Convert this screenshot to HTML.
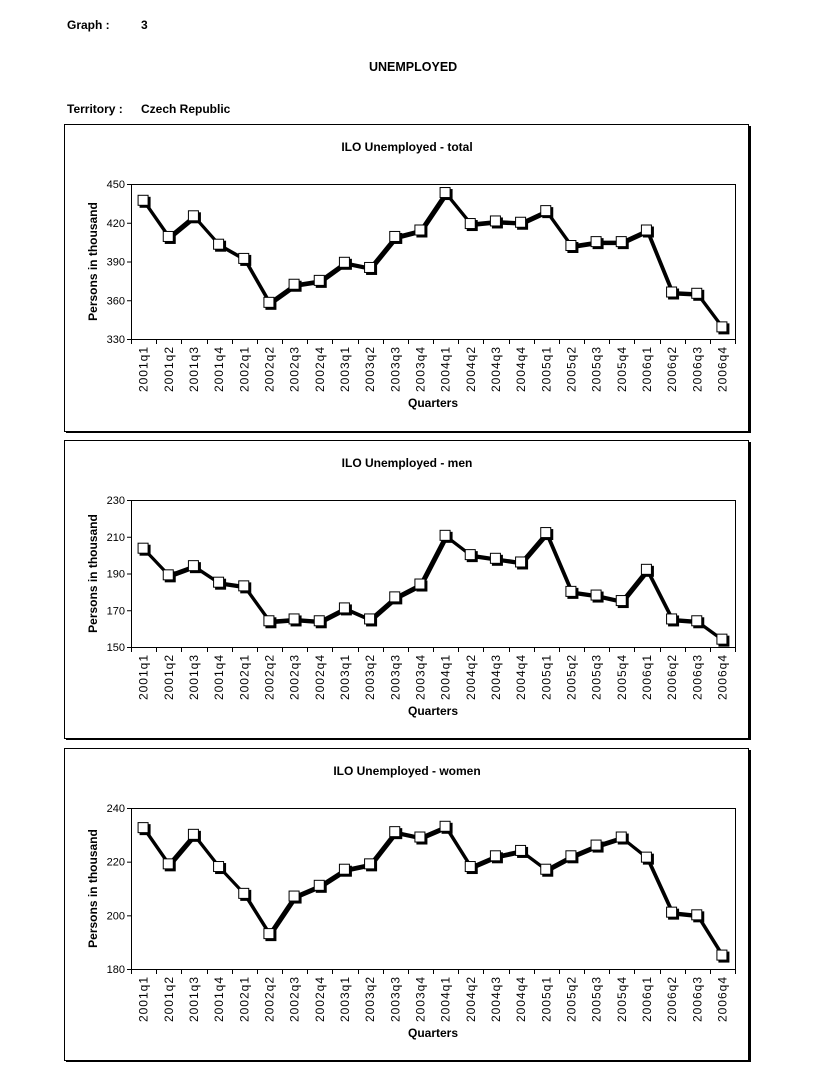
<!DOCTYPE html>
<html><head><meta charset="utf-8"><style>
html,body{margin:0;padding:0;background:#fff;}
body{width:831px;height:1080px;overflow:hidden;position:relative;font-family:"Liberation Sans",Arial,sans-serif;}
.h{position:absolute;font-size:12px;font-weight:bold;color:#000;}
svg{position:absolute;left:0;top:0;}
</style></head><body>
<div class="h" style="left:67px;top:18px">Graph :</div>
<div class="h" style="left:141px;top:18px">3</div>
<div class="h" style="left:369px;top:60px;font-size:12.5px">UNEMPLOYED</div>
<div class="h" style="left:67px;top:102px">Territory :</div>
<div class="h" style="left:141px;top:102px">Czech Republic</div>
<svg id="s" width="831" height="1080" xmlns="http://www.w3.org/2000/svg"></svg>
<script>
var labels=[];for(var y=2001;y<=2006;y++)for(var q=1;q<=4;q++)labels.push(y+"q"+q);
var charts=[
{title:"ILO Unemployed - total",bt:124,bb:431,pt:184,pb:339,min:330,max:450,step:30,
 d:[437,409,425,403,392,358,372,375,389,385,409,414,443,419,421,420,429,402,405,405,414,366,365,339]},
{title:"ILO Unemployed - men",bt:440,bb:738,pt:500,pb:647,min:150,max:230,step:20,
 d:[203.5,189,194,185,183,164,165,164,171,165,177,184,210.5,200,198,196,212,180,178,175,192,165,164,154]},
{title:"ILO Unemployed - women",bt:748,bb:1060,pt:808,pb:969,min:180,max:240,step:20,
 d:[232.5,219,230,218,208,193,207,211,217,219,231,229,233,218,222,224,217,222,226,229,221.5,201,200,185]}
];
var s="";var L=131,R=735,W=(R-L)/24;
charts.forEach(function(c){
 s+='<rect x="64.5" y="'+(c.bt+.5)+'" width="684" height="'+(c.bb-c.bt)+'" fill="none" stroke="#000" stroke-width="1"/>';
 s+='<line x1="66" y1="'+(c.bb+1)+'" x2="750" y2="'+(c.bb+1)+'" stroke="#000" stroke-width="2"/>';
 s+='<line x1="750" y1="'+(c.bt+2)+'" x2="750" y2="'+(c.bb+2)+'" stroke="#000" stroke-width="2"/>';
 s+='<text x="407" y="'+(c.bt+27)+'" text-anchor="middle" font-size="12" font-weight="bold">'+c.title+'</text>';
 s+='<rect x="'+(L+.5)+'" y="'+(c.pt+.5)+'" width="'+(R-L)+'" height="'+(c.pb-c.pt)+'" fill="none" stroke="#000" stroke-width="1"/>';
 for(var v=c.min;v<=c.max;v+=c.step){var yy=c.pb-(v-c.min)/(c.max-c.min)*(c.pb-c.pt);
  s+='<line x1="'+(L-4)+'" y1="'+(yy+.5)+'" x2="'+L+'" y2="'+(yy+.5)+'" stroke="#000"/>';
  s+='<text x="'+(L-6)+'" y="'+(yy+4)+'" text-anchor="end" font-size="11">'+v+'</text>';}
 for(var i=0;i<=24;i++){var xx=Math.round(L+i*W)+.5;s+='<line x1="'+xx+'" y1="'+c.pb+'" x2="'+xx+'" y2="'+(c.pb+5)+'" stroke="#000"/>';}
 labels.forEach(function(l,i){var xx=L+(i+.5)*W+4;s+='<text transform="translate('+xx+','+(c.pb+7)+') rotate(-90)" text-anchor="end" font-size="12" letter-spacing="1">'+l+'</text>';});
 s+='<text x="433" y="'+(c.pb+68)+'" text-anchor="middle" font-size="12" font-weight="bold">Quarters</text>';
 var cy=(c.pt+c.pb)/2;s+='<text transform="translate(97,'+cy+') rotate(-90)" text-anchor="middle" font-size="12" font-weight="bold">Persons in thousand</text>';
 var pts=c.d.map(function(v,i){return [L+(i+.5)*W,c.pb-(v-c.min)/(c.max-c.min)*(c.pb-c.pt)];});
 var p=pts.map(function(q){return q[0].toFixed(1)+','+q[1].toFixed(1)}).join(' ');
 var ps=pts.map(function(q){return (q[0]+1.5).toFixed(1)+','+(q[1]+1.5).toFixed(1)}).join(' ');
 s+='<polyline points="'+ps+'" fill="none" stroke="#000" stroke-width="3" stroke-linejoin="round"/>';
 s+='<polyline points="'+p+'" fill="none" stroke="#000" stroke-width="3" stroke-linejoin="round"/>';
 pts.forEach(function(q){
  s+='<rect x="'+(q[0]-4)+'" y="'+(q[1]-4)+'" width="11" height="11" fill="#000"/>';
  s+='<rect x="'+(q[0]-5.5)+'" y="'+(q[1]-5.5)+'" width="10" height="10" fill="#fff" stroke="#000" stroke-width="1"/>';});
});
document.getElementById("s").innerHTML=s;
</script>
</body></html>
